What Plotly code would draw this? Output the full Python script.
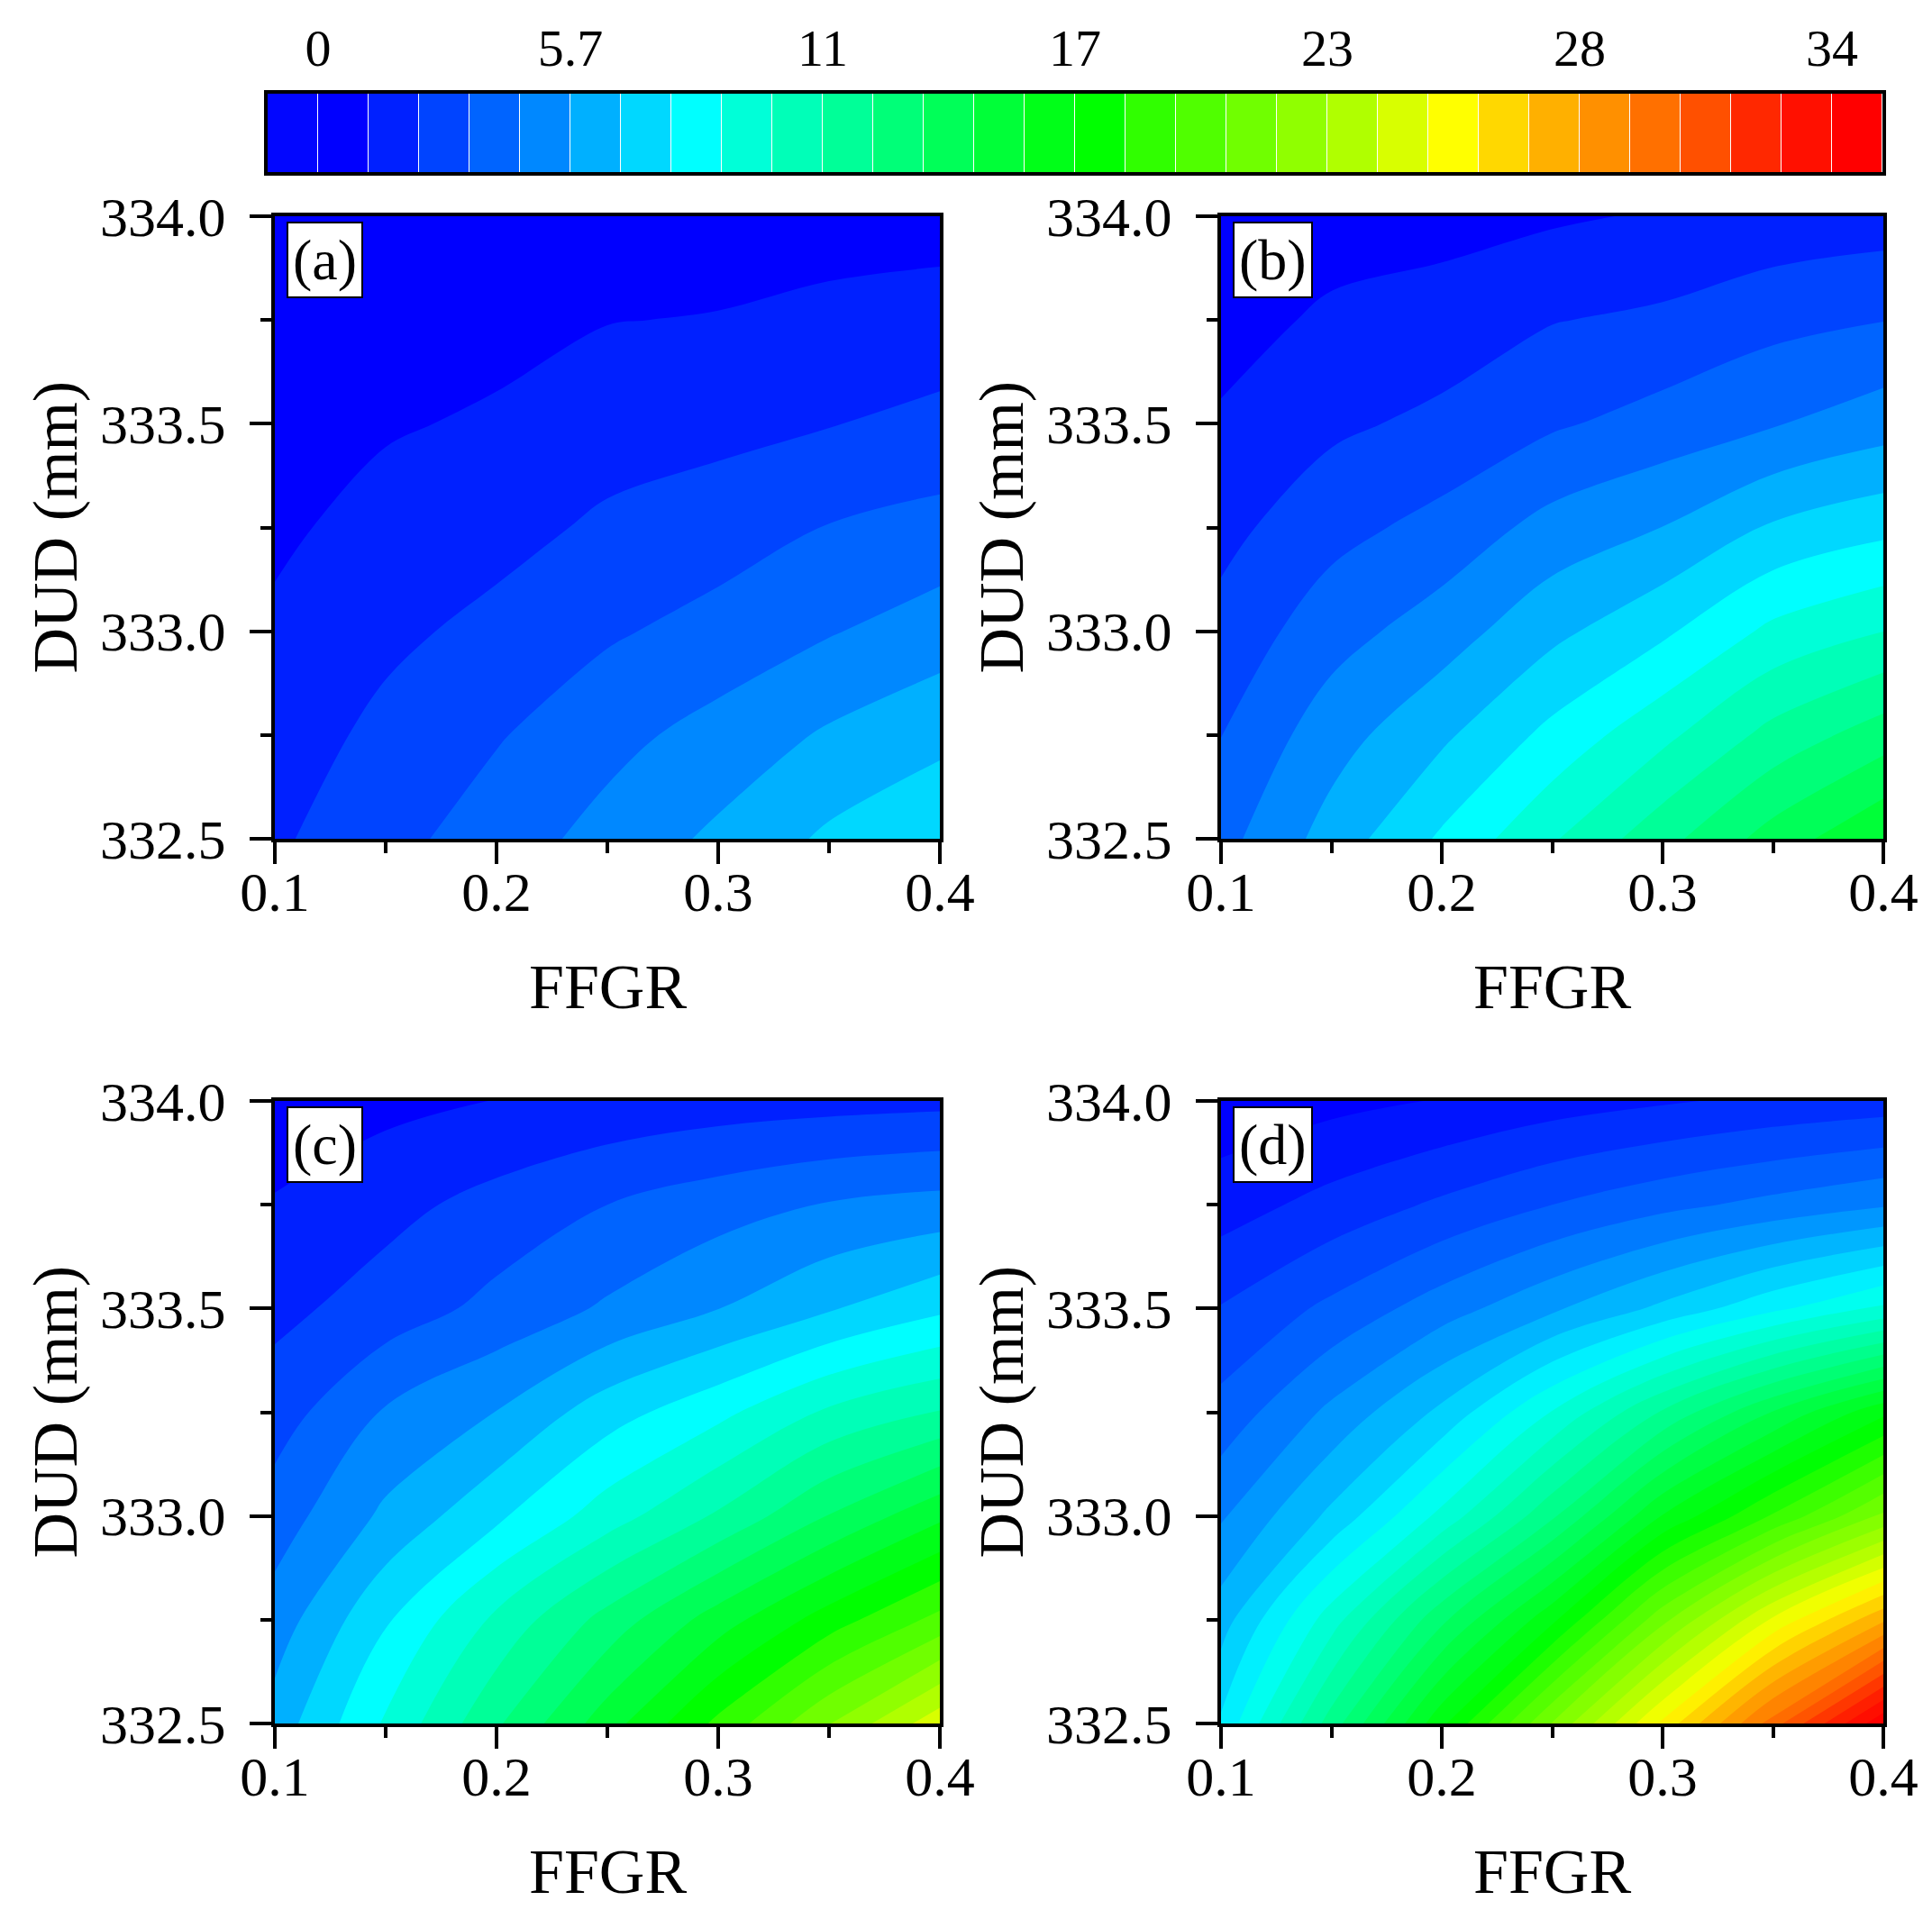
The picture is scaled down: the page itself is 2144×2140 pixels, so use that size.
import math
import plotly.graph_objects as go

# ---------------- data ----------------
FFGR = [0.10, 0.15, 0.20, 0.25, 0.30, 0.35, 0.40]
DUD = [332.50, 332.75, 333.00, 333.25, 333.50, 333.75, 334.00]

# rows follow DUD (bottom -> top), columns follow FFGR
Z_A = [
    [2.10, 3.00, 4.00, 4.90, 5.90, 7.00, 7.70],
    [1.70, 2.55, 3.30, 4.20, 4.92, 5.82, 6.51],
    [1.30, 2.02, 2.57, 3.24, 3.83, 4.45, 5.10],
    [0.95, 1.49, 1.90, 2.46, 2.83, 3.45, 3.79],
    [0.70, 1.03, 1.27, 1.77, 1.95, 2.22, 2.57],
    [0.50, 0.70, 0.83, 1.10, 1.19, 1.44, 1.60],
    [0.30, 0.38, 0.45, 0.50, 0.56, 0.62, 0.69],
]
Z_B = [
    [4.14, 6.13, 8.11, 10.07, 12.07, 14.08, 15.80],
    [3.38, 5.18, 6.58, 8.26, 9.90, 11.71, 13.06],
    [2.63, 4.06, 5.11, 6.50, 7.72, 9.34, 10.19],
    [1.93, 3.02, 3.77, 4.94, 5.68, 6.95, 7.62],
    [1.28, 2.04, 2.54, 3.25, 3.84, 4.45, 5.15],
    [0.68, 1.34, 1.61, 2.22, 2.48, 3.06, 3.37],
    [0.30, 0.60, 0.75, 0.98, 1.25, 1.50, 1.72],
]
Z_C = [
    [6.15, 9.22, 12.29, 15.35, 18.41, 21.48, 24.55],
    [5.04, 7.80, 10.46, 12.88, 15.30, 17.56, 19.62],
    [3.95, 5.90, 7.70, 9.66, 11.50, 13.65, 15.62],
    [2.85, 4.65, 5.69, 7.43, 8.75, 10.40, 11.40],
    [1.96, 2.77, 3.74, 4.69, 5.65, 6.69, 7.70],
    [1.22, 1.92, 2.65, 3.40, 4.04, 4.61, 4.94],
    [0.48, 0.82, 1.16, 1.45, 1.70, 1.85, 1.97],
]
Z_D = [
    [7.80, 12.30, 16.80, 21.30, 25.70, 30.20, 34.70],
    [6.40, 9.80, 13.40, 16.80, 21.00, 24.80, 27.90],
    [5.00, 7.00, 9.60, 12.60, 16.20, 18.80, 21.40],
    [3.70, 5.30, 7.00, 9.40, 12.00, 14.50, 16.80],
    [2.60, 3.60, 4.70, 5.80, 7.00, 8.30, 9.50],
    [1.30, 2.00, 2.70, 3.40, 4.00, 4.50, 5.00],
    [0.30, 0.60, 0.90, 1.30, 1.60, 1.90, 2.10],
]

PALETTE = [
    '#0206FF', '#0000FF', '#0020FF', '#0044FF', '#0064FF', '#0088FF', '#00B0FF', '#00D8FF',
    '#00FFFF', '#00FFD8', '#00FFB8', '#00FF98', '#00FF78', '#00FF58', '#00FF38', '#00FF18',
    '#00FF00', '#30FF00', '#50FF00', '#70FF00', '#90FF00', '#B0FF00', '#D8FF00', '#FFFF00',
    '#FFD800', '#FFB000', '#FF9000', '#FF7000', '#FF5000', '#FF2800', '#FF1000', '#FF0000',
]
LEVEL_STEP = 34.0 / 30.0
LEVEL_START = -LEVEL_STEP
LEVEL_END = 34.0 + LEVEL_STEP
STEP_D = 0.85
START_D = -0.85
END_D = 35.7

X_TICKS = [0.1, 0.2, 0.3, 0.4]
X_TICKTEXT = ['0.1', '0.2', '0.3', '0.4']
X_MINOR = [0.15, 0.25, 0.35]
Y_TICKS = [332.5, 333.0, 333.5, 334.0]
Y_TICKTEXT = ['332.5', '333.0', '333.5', '334.0']
Y_MINOR = [332.75, 333.25, 333.75]
CB_TICKVALS = [0.0, 34.0 / 6, 34.0 / 3, 17.0, 68.0 / 3, 85.0 / 3, 34.0]
CB_TICKTEXT = ['0', '5.7', '11', '17', '23', '28', '34']
PANEL_LABELS = ['(a)', '(b)', '(c)', '(d)']

# ---------------- helpers ----------------
BAND_MIDS = [LEVEL_START + (k + 0.5) * LEVEL_STEP for k in range(len(PALETTE))]


def contour_colorscale(start, size, end):
    nc = math.floor((end + size / 1e6 - start) / size) + 1
    stops = [[0.0, PALETTE[0]]]
    for m, c in zip(BAND_MIDS, PALETTE):
        s = ((m - start) / size + 0.5) / nc
        if 0.0 < s < 1.0:
            stops.append([s, c])
    stops.append([1.0, PALETTE[-1]])
    return stops


W, H = 2144, 2140
FONT = 'Liberation Serif'

# pixel geometry
PX_LEFT = [(297, 1035), (1347, 2082)]
PX_ROWS = [(232, 923), (1214, 1905)]


def xdom(px):
    return [px[0] / W, px[1] / W]


def ydom(px):
    return [1 - px[1] / H, 1 - px[0] / H]


fig = go.Figure()

panels = [
    (Z_A, 0, 0, LEVEL_START, LEVEL_STEP, LEVEL_END),
    (Z_B, 1, 0, LEVEL_START, LEVEL_STEP, LEVEL_END),
    (Z_C, 0, 1, LEVEL_START, LEVEL_STEP, LEVEL_END),
    (Z_D, 1, 1, START_D, STEP_D, END_D),
]

layout_axes = {}
annotations = []
for i, (Z, col, row, st, sz, en) in enumerate(panels):
    n = i + 1
    xa = 'x' if n == 1 else f'x{n}'
    ya = 'y' if n == 1 else f'y{n}'
    fig.add_trace(go.Contour(
        x=FFGR, y=DUD, z=Z, xaxis=xa, yaxis=ya,
        autocontour=False,
        contours=dict(start=st, end=en, size=sz, coloring='fill', showlines=False),
        colorscale=contour_colorscale(st, sz, en),
        line=dict(width=0),
        showscale=False, hoverinfo='skip',
    ))
    xkey = 'xaxis' if n == 1 else f'xaxis{n}'
    ykey = 'yaxis' if n == 1 else f'yaxis{n}'
    common = dict(showline=True, linewidth=4, linecolor='black', mirror=True,
                  ticks='outside', ticklen=24, tickwidth=3.5, tickcolor='black',
                  showgrid=False, zeroline=False, automargin=False)
    layout_axes[xkey] = dict(
        common, domain=xdom(PX_LEFT[col]), anchor=ya, range=[0.1, 0.4],
        tickmode='array', tickvals=X_TICKS, ticktext=X_TICKTEXT,
        tickfont=dict(family=FONT, size=62, color='black'), ticklabelstandoff=-22,
        minor=dict(tickmode='array', tickvals=X_MINOR, ticks='outside', ticklen=12,
                   tickwidth=3.5, tickcolor='black', showgrid=False),
    )
    layout_axes[ykey] = dict(
        common, domain=ydom(PX_ROWS[row]), anchor=xa, range=[332.5, 334.0],
        tickmode='array', tickvals=Y_TICKS, ticktext=Y_TICKTEXT,
        tickfont=dict(family=FONT, size=62, color='black'), ticklabelstandoff=14,
        minor=dict(tickmode='array', tickvals=Y_MINOR, ticks='outside', ticklen=12,
                   tickwidth=3.5, tickcolor='black', showgrid=False),
    )
    x0, x1 = PX_LEFT[col]
    y0, y1 = PX_ROWS[row]
    # axis titles
    annotations.append(dict(
        text='FFGR', xref='paper', yref='paper', x=(x0 + x1) / 2 / W, y=1 - (y1 + 164) / H,
        xanchor='center', yanchor='middle', showarrow=False,
        font=dict(family=FONT, size=70, color='black')))
    annotations.append(dict(
        text='DUD (mm)', xref='paper', yref='paper', x=(x0 - 244) / W, y=1 - (y0 + y1) / 2 / H,
        xanchor='center', yanchor='middle', showarrow=False, textangle=-90,
        font=dict(family=FONT, size=70, color='black')))
    # panel label
    annotations.append(dict(
        text=PANEL_LABELS[i], xref=f'{xa} domain', yref=f'{ya} domain',
        x=13 / (x1 - x0), y=1 - 6 / (y1 - y0), xanchor='left', yanchor='top',
        showarrow=False, bgcolor='white', bordercolor='black', borderwidth=2, borderpad=5,
        font=dict(family=FONT, size=64, color='black')))

# ---------------- colour bar (drawn as a heatmap on its own axes) ----------------
n_bands = len(PALETTE)
cb_scale = [[k / (n_bands - 1), c] for k, c in enumerate(PALETTE)]
fig.add_trace(go.Heatmap(
    x=BAND_MIDS, y=[0], z=[list(range(1, n_bands + 1))],
    zmin=1, zmax=n_bands, colorscale=cb_scale, showscale=False, xgap=1,
    xaxis='x5', yaxis='y5', hoverinfo='skip',
))
layout_axes['xaxis5'] = dict(
    domain=[289 / W, 2081 / W], anchor='y5', range=[LEVEL_START, LEVEL_END],
    side='top', tickmode='array', tickvals=CB_TICKVALS, ticktext=CB_TICKTEXT,
    ticks='outside', ticklen=4, tickcolor='rgba(0,0,0,0)',
    showline=True, linewidth=4, linecolor='black', mirror=True,
    showgrid=False, zeroline=False, automargin=False,
    tickfont=dict(family=FONT, size=58, color='black'),
)
layout_axes['yaxis5'] = dict(
    domain=[1 - 183 / H, 1 - 96 / H], anchor='x5', range=[-0.5, 0.5],
    showticklabels=False, ticks='', showline=True, linewidth=4, linecolor='black',
    mirror=True, showgrid=False, zeroline=False, automargin=False,
)

fig.update_layout(
    width=W, height=H, margin=dict(l=0, r=0, t=0, b=0, autoexpand=False),
    paper_bgcolor='white', plot_bgcolor='white', showlegend=False,
    font=dict(family=FONT, color='black'),
    annotations=annotations,
    **layout_axes,
)

fig.write_html('out.html')
